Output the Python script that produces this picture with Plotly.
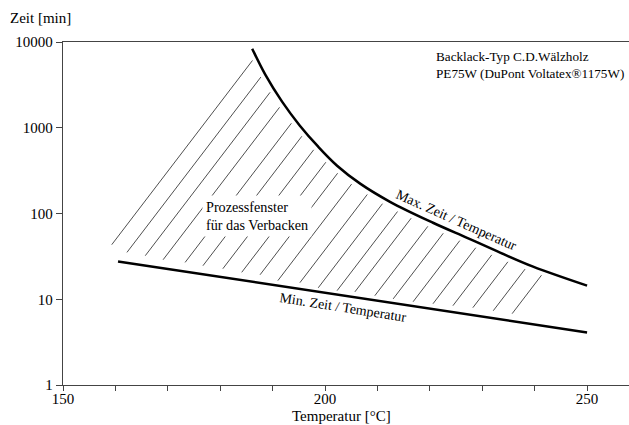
import numpy as np
import plotly.graph_objects as go

# ---- data ----
max_T = [186.1, 188.6, 191.8, 195.2, 198.7, 202.3, 206.7, 212.4, 220.6, 227.1, 233.4, 239.7, 250.0]
max_t = [8360, 4160, 2015, 1057, 601, 361, 223, 137, 78, 52, 35, 24, 14.4]

min_T = [160.5, 205.0, 250.0]
min_t = [27.6, 10.6, 4.1]

# lower ends of the hatch lines
hatch_T0 = [159.3, 162.2, 165.7, 169.1, 173.3, 176.7, 180.5, 184.1, 187.6, 191.0, 195.2,
            198.7, 202.3, 205.7, 209.5, 213.0, 216.8, 220.6, 224.4, 228.2, 232.1, 235.7]
hatch_t0 = [43.3, 35.2, 32.2, 28.9, 26.9, 24.6, 22.7, 20.6, 19.3, 16.5, 15.6,
            13.6, 12.6, 12.2, 11.0, 10.1, 9.35, 8.87, 8.41, 7.97, 7.35, 6.79]
hatch_slope = 0.08   # decades per °C
hatch_gap = 0.65     # °C left free below the max curve

x_tickvals = [150, 160, 170, 180, 190, 200, 210, 220, 230, 240, 250]
x_ticktext = ["150", "", "", "", "", "200", "", "", "", "", "250"]
y_tickvals = [1, 10, 100, 1000, 10000]
y_ticktext = ["1", "10", "100", "1000", "10000"]

FONT = "Liberation Serif"

# ---- hatch lines: from lower end up to (just below) the max curve ----
lmx_T = np.array(max_T)
lmx_t = np.log10(np.array(max_t))
hx, hy = [], []
for T0, t0 in zip(hatch_T0, hatch_t0):
    l0 = np.log10(t0)
    xs = np.linspace(T0, 260, 20001)
    f = l0 + hatch_slope * (xs - T0) - np.interp(xs, lmx_T, lmx_t)
    idx = np.argmax(f >= 0)
    xe = xs[idx] - hatch_gap
    hx += [T0, xe, None]
    hy += [t0, 10 ** (l0 + hatch_slope * (xe - T0)), None]

fig = go.Figure()
fig.add_trace(go.Scatter(x=hx, y=hy, mode="lines",
                         line=dict(color="#222222", width=0.8), hoverinfo="skip"))
fig.add_trace(go.Scatter(x=max_T, y=max_t, mode="lines",
                         line=dict(color="black", width=2.5, shape="spline", smoothing=1)))
fig.add_trace(go.Scatter(x=min_T, y=min_t, mode="lines",
                         line=dict(color="black", width=2.5)))

axis_common = dict(showgrid=False, zeroline=False, showline=True, linecolor="#444444",
                   linewidth=1.3, ticks="outside", tickwidth=1,
                   tickcolor="#444444", automargin=False,
                   tickfont=dict(family=FONT, size=15, color="black"))

fig.update_xaxes(range=[150, 258.0], tickmode="array", tickvals=x_tickvals,
                 ticktext=x_ticktext, mirror=True, ticklen=5, ticklabelstandoff=-5,
                 **axis_common)
fig.update_yaxes(type="log", range=[0, 4], tickmode="array", tickvals=y_tickvals,
                 ticktext=y_ticktext, ticklen=6, **axis_common)

def note(text, x, y, size=15, angle=0, xanchor="center", align="center", **kw):
    return dict(text=text, x=x, y=y, xref="paper", yref="paper", xanchor=xanchor,
                yanchor="middle", align=align, showarrow=False, textangle=angle,
                font=dict(family=FONT, size=size, color="black"), **kw)

ann = [
    note("Zeit [min]", -0.0392, 1.070),
    note("Temperatur [°C]", 0.492, -0.0904, borderpad=0),
    note("Backlack-Typ C.D.Wälzholz<br>PE75W (DuPont Voltatex®1175W)", 0.6555, 0.933,
         size=13.2, xanchor="left", align="left"),
    note("Prozessfenster<br>für das Verbacken", 0.2456, 0.493, size=14.2,
         xanchor="left", align="left", bgcolor="white", borderpad=3),
    note("Max. Zeit / Temperatur", 0.696, 0.479, size=14, angle=24),
    note("Min. Zeit / Temperatur", 0.4947, 0.2274, size=14, angle=9),
]

fig.update_layout(width=629, height=425, margin=dict(l=63, r=0, t=42, b=40),
                  plot_bgcolor="white", paper_bgcolor="white", showlegend=False,
                  annotations=ann, font=dict(family=FONT, color="black"))

fig.write_html("out.html", config={"displayModeBar": False},
               post_script="document.body.style.margin='0';document.body.style.overflow='hidden';")
